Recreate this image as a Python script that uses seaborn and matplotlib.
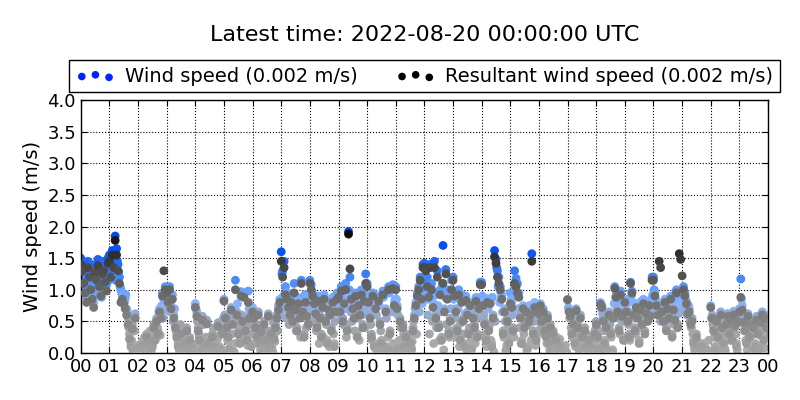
import matplotlib
matplotlib.use("Agg")
import matplotlib.pyplot as plt
import matplotlib.dates as mdates
from matplotlib.colors import LinearSegmentedColormap
import numpy as np
import pandas as pd
import seaborn as sns

# readings every 3 minutes (20 per hour) from 2022-08-19 00:00 UTC;
# wind speed also has a second reading 90 s after each of those
start = pd.Timestamp("2022-08-19 00:00:00")
step_min = 3

wind_speed = [
    1.50, 1.42, 1.20, 1.05, 0.88, 1.45, 1.30, 1.12, 0.95, 0.80, 1.38, 1.25, 1.48, 1.15, 0.98, 1.33, 1.40, 1.22, 1.08, 1.50,  # 00
    1.55, 1.30, 1.62, 1.45, 1.85, 1.65, 1.40, 1.20, 1.00, 0.92, 0.90, 0.85, 0.70, 0.55, 0.30, 0.15, 0.45, 0.10, 0.62, 0.05,  # 01
    0.02, 0.12, 0.05, 0.18, 0.01, 0.08, 0.30, 0.03, 0.22, 0.10, 0.15, 0.45, 0.25, 0.55, 0.35, 0.70, 0.60, 0.95, 0.85, 1.05,  # 02
    1.00, 0.88, 1.05, 0.75, 0.92, 0.60, 0.45, 0.30, 0.15, 0.05, 0.35, 0.02, 0.20, 0.10, 0.40, 0.01, 0.25, 0.05, 0.12, 0.03,  # 03
    0.78, 0.65, 0.40, 0.25, 0.05, 0.58, 0.12, 0.02, 0.52, 0.20, 0.08, 0.01, 0.30, 0.03, 0.15, 0.01, 0.48, 0.10, 0.02, 0.35,  # 04
    0.85, 0.60, 0.45, 0.30, 0.10, 0.72, 0.50, 0.02, 1.15, 0.65, 0.35, 0.20, 0.97, 0.55, 0.95, 0.40, 0.25, 0.98, 0.62, 0.15,  # 05
    0.72, 0.60, 0.45, 0.30, 0.65, 0.20, 0.38, 0.10, 0.50, 0.25, 0.05, 0.62, 0.15, 0.35, 0.02, 0.28, 0.45, 0.60, 0.75, 0.85,  # 06
    1.60, 1.30, 1.45, 1.05, 0.95, 0.80, 0.65, 0.90, 0.55, 1.10, 0.75, 0.40, 0.85, 0.60, 1.15, 0.70, 0.30, 0.88, 0.62, 0.50,  # 07
    1.15, 1.08, 0.95, 0.85, 0.70, 0.45, 0.90, 0.60, 0.30, 0.80, 0.92, 0.55, 0.20, 0.75, 0.65, 0.40, 0.88, 0.15, 0.72, 0.95,  # 08
    0.95, 0.70, 1.05, 0.55, 0.85, 1.10, 0.40, 1.92, 1.20, 0.90, 0.75, 0.60, 0.95, 0.30, 0.80, 0.65, 1.00, 0.45, 0.88, 1.25,  # 09
    1.10, 0.85, 0.60, 0.30, 0.95, 0.15, 0.75, 0.05, 0.90, 0.50, 0.20, 0.98, 0.02, 0.70, 0.10, 1.05, 0.35, 0.03, 1.08, 0.80,  # 10
    1.05, 0.75, 0.10, 0.55, 0.02, 0.45, 0.15, 0.30, 0.05, 0.01, 0.20, 0.08, 0.40, 0.60, 0.80, 0.95, 1.05, 1.20, 0.90, 1.40,  # 11
    1.42, 1.38, 1.20, 0.95, 1.40, 1.10, 0.80, 1.45, 0.60, 1.30, 0.45, 1.00, 0.25, 1.70, 0.70, 1.32, 0.90, 0.35, 0.55, 1.15,  # 12
    1.20, 0.95, 0.70, 0.40, 1.00, 0.25, 0.85, 0.55, 0.15, 0.90, 0.65, 0.35, 0.80, 0.10, 0.60, 0.45, 0.88, 0.30, 0.75, 1.12,  # 13
    1.12, 0.80, 0.50, 0.25, 0.86, 0.40, 0.85, 0.15, 0.60, 1.62, 1.48, 1.30, 1.20, 1.05, 0.90, 0.35, 0.70, 0.05, 0.55, 0.20,  # 14
    0.95, 0.80, 0.40, 1.30, 1.18, 1.10, 0.95, 0.60, 0.20, 0.75, 0.45, 0.70, 0.10, 0.55, 0.65, 1.57, 0.35, 0.80, 0.25, 0.70,  # 15
    0.68, 0.78, 0.55, 0.70, 0.40, 0.30, 0.60, 0.20, 0.45, 0.10, 0.35, 0.05, 0.25, 0.02, 0.15, 0.01, 0.08, 0.03, 0.01, 0.02,  # 16
    0.85, 0.68, 0.62, 0.35, 0.50, 0.20, 0.70, 0.45, 0.10, 0.60, 0.30, 0.02, 0.40, 0.15, 0.05, 0.25, 0.01, 0.12, 0.03, 0.35,  # 17
    0.50, 0.30, 0.10, 0.80, 0.75, 0.55, 0.20, 0.45, 0.05, 0.65, 0.35, 0.02, 0.60, 1.05, 0.92, 0.70, 0.40, 0.98, 0.62, 0.25,  # 18
    0.85, 0.70, 0.55, 0.30, 1.12, 0.98, 0.65, 0.40, 0.78, 0.60, 0.20, 0.72, 0.50, 0.85, 0.35, 0.68, 0.55, 0.80, 0.62, 1.20,  # 19
    1.20, 0.95, 0.80, 0.65, 0.62, 0.50, 0.70, 0.55, 0.85, 0.40, 0.75, 0.60, 0.90, 0.30, 0.72, 0.58, 1.00, 0.45, 0.70, 0.66,  # 20
    0.75, 1.05, 0.95, 0.82, 0.65, 0.70, 0.48, 0.55, 0.20, 0.05, 0.30, 0.02, 0.10, 0.01, 0.15, 0.03, 0.01, 0.06, 0.02, 0.01,  # 21
    0.75, 0.60, 0.40, 0.10, 0.55, 0.30, 0.02, 0.65, 0.45, 0.20, 0.05, 0.50, 0.62, 0.35, 0.58, 0.25, 0.66, 0.48, 0.15, 0.55,  # 22
    0.70, 1.17, 0.75, 0.55, 0.40, 0.20, 0.62, 0.30, 0.50, 0.05, 0.45, 0.15, 0.58, 0.35, 0.10, 0.52, 0.65, 0.25, 0.60, 0.45,  # 23
]

# wind readings taken 90 s after the ones above
wind_speed_b = [
    1.35, 1.10, 0.92, 1.28, 1.00, 0.85, 1.18, 1.40, 0.90, 1.05, 1.22, 0.95, 1.30, 1.12, 0.88, 1.45, 1.02, 1.25, 1.35, 1.15,  # 00
    1.25, 1.50, 1.35, 1.58, 1.15, 1.45, 1.28, 1.05, 0.95, 0.88, 0.80, 0.92, 0.65, 0.40, 0.50, 0.20, 0.03, 0.35, 0.12, 0.01,  # 01
    0.05, 0.01, 0.15, 0.03, 0.25, 0.02, 0.10, 0.01, 0.35, 0.06, 0.20, 0.30, 0.50, 0.40, 0.65, 0.28, 0.75, 0.55, 0.90, 0.68,  # 02
    0.95, 0.78, 0.65, 0.85, 0.50, 0.70, 0.35, 0.22, 0.08, 0.45, 0.01, 0.18, 0.03, 0.28, 0.01, 0.10, 0.02, 0.15, 0.01, 0.06,  # 03
    0.70, 0.50, 0.30, 0.15, 0.02, 0.45, 0.01, 0.25, 0.05, 0.01, 0.18, 0.02, 0.40, 0.01, 0.08, 0.22, 0.01, 0.30, 0.05, 0.55,  # 04
    0.60, 0.40, 0.20, 0.05, 0.55, 0.30, 0.01, 0.15, 0.48, 0.78, 0.42, 0.28, 0.60, 0.90, 0.35, 0.52, 0.12, 0.70, 0.45, 0.30,  # 05
    0.55, 0.35, 0.62, 0.15, 0.42, 0.05, 0.28, 0.01, 0.38, 0.12, 0.22, 0.02, 0.30, 0.08, 0.48, 0.18, 0.55, 0.35, 0.68, 0.60,  # 06
    1.25, 0.90, 0.70, 0.55, 0.85, 0.45, 0.78, 0.62, 0.95, 0.50, 0.35, 0.88, 0.68, 0.25, 0.80, 0.58, 0.92, 0.40, 0.75, 0.65,  # 07
    0.90, 0.75, 0.50, 0.82, 0.35, 0.65, 0.15, 0.78, 0.55, 0.25, 0.85, 0.45, 0.70, 0.10, 0.60, 0.82, 0.30, 0.50, 0.68, 0.85,  # 08
    0.80, 0.60, 0.92, 0.45, 0.70, 0.25, 0.85, 1.00, 0.65, 0.50, 0.88, 0.35, 0.72, 0.55, 0.20, 0.82, 0.60, 0.95, 0.40, 0.70,  # 09
    0.90, 0.70, 0.45, 0.20, 0.80, 0.08, 0.60, 0.02, 0.75, 0.35, 0.12, 0.88, 0.01, 0.55, 0.25, 0.95, 0.05, 0.65, 0.15, 0.85,  # 10
    0.85, 0.60, 0.20, 0.40, 0.05, 0.30, 0.01, 0.12, 0.02, 0.25, 0.01, 0.18, 0.50, 0.70, 0.30, 0.88, 0.65, 1.00, 0.78, 1.15,  # 11
    1.20, 0.85, 0.60, 0.30, 1.05, 0.50, 0.15, 0.92, 0.40, 0.75, 0.20, 0.65, 1.10, 0.05, 0.88, 0.45, 1.00, 0.25, 0.70, 0.35,  # 12
    0.85, 0.55, 0.25, 0.70, 0.10, 0.48, 0.92, 0.30, 0.62, 0.05, 0.78, 0.40, 0.20, 0.68, 0.35, 0.15, 0.55, 0.82, 0.28, 0.60,  # 13
    0.90, 0.60, 0.30, 0.10, 0.70, 0.45, 0.20, 0.88, 0.02, 0.50, 1.35, 1.05, 0.80, 0.95, 0.65, 0.25, 0.50, 0.12, 0.40, 0.30,  # 14
    0.85, 0.60, 0.25, 1.05, 0.90, 0.70, 0.40, 0.15, 0.55, 0.30, 0.62, 0.05, 0.45, 0.75, 0.20, 0.65, 0.50, 0.12, 0.60, 0.35,  # 15
    0.60, 0.45, 0.65, 0.30, 0.50, 0.15, 0.38, 0.05, 0.28, 0.01, 0.18, 0.02, 0.10, 0.01, 0.22, 0.01, 0.05, 0.01, 0.12, 0.01,  # 16
    0.72, 0.55, 0.40, 0.25, 0.60, 0.10, 0.48, 0.30, 0.02, 0.20, 0.38, 0.05, 0.15, 0.01, 0.28, 0.08, 0.01, 0.18, 0.02, 0.22,  # 17
    0.40, 0.20, 0.02, 0.70, 0.62, 0.35, 0.10, 0.55, 0.01, 0.45, 0.25, 0.05, 0.78, 0.88, 0.72, 0.55, 0.30, 0.82, 0.50, 0.65,  # 18
    0.75, 0.60, 0.45, 0.20, 0.90, 0.80, 0.55, 0.30, 0.68, 0.72, 0.40, 0.82, 0.62, 0.75, 0.50, 0.78, 0.65, 0.70, 0.85, 0.92,  # 19
    1.00, 0.85, 0.70, 0.78, 0.62, 0.75, 0.58, 0.68, 0.80, 0.52, 0.66, 0.72, 0.60, 0.78, 0.45, 0.70, 0.85, 0.62, 0.92, 0.80,  # 20
    0.95, 0.88, 0.70, 0.60, 0.75, 0.50, 0.40, 0.30, 0.08, 0.01, 0.18, 0.02, 0.01, 0.05, 0.01, 0.10, 0.02, 0.01, 0.20, 0.01,  # 21
    0.55, 0.45, 0.25, 0.02, 0.40, 0.15, 0.01, 0.50, 0.30, 0.08, 0.35, 0.62, 0.45, 0.20, 0.55, 0.40, 0.60, 0.30, 0.05, 0.48,  # 22
    0.60, 0.85, 0.50, 0.35, 0.20, 0.05, 0.48, 0.25, 0.40, 0.02, 0.30, 0.55, 0.12, 0.45, 0.28, 0.62, 0.38, 0.08, 0.50, 0.30,  # 23
]

resultant_speed = [
    1.40, 1.30, 1.10, 0.95, 0.80, 1.35, 1.20, 1.00, 0.85, 0.72, 1.28, 1.15, 1.38, 1.05, 0.90, 1.25, 1.30, 1.12, 0.98, 1.42,  # 00
    1.45, 1.20, 1.55, 1.35, 1.78, 1.55, 1.30, 1.10, 0.80, 0.85, 0.78, 0.70, 0.60, 0.45, 0.22, 0.10, 0.38, 0.05, 0.55, 0.02,  # 01
    0.01, 0.08, 0.03, 0.12, 0.01, 0.05, 0.25, 0.02, 0.15, 0.06, 0.10, 0.40, 0.20, 0.50, 0.30, 0.65, 0.55, 0.90, 1.30, 1.00,  # 02
    0.95, 0.80, 1.00, 0.70, 0.85, 0.55, 0.40, 0.25, 0.10, 0.02, 0.30, 0.01, 0.15, 0.05, 0.35, 0.01, 0.20, 0.02, 0.08, 0.01,  # 03
    0.72, 0.58, 0.35, 0.20, 0.03, 0.52, 0.08, 0.01, 0.46, 0.15, 0.05, 0.01, 0.25, 0.02, 0.10, 0.01, 0.42, 0.06, 0.01, 0.30,  # 04
    0.82, 0.55, 0.40, 0.25, 0.05, 0.68, 0.45, 0.01, 1.00, 0.60, 0.30, 0.15, 0.90, 0.50, 0.88, 0.35, 0.20, 0.80, 0.55, 0.10,  # 05
    0.65, 0.55, 0.40, 0.25, 0.60, 0.15, 0.33, 0.06, 0.45, 0.20, 0.03, 0.58, 0.10, 0.30, 0.01, 0.22, 0.40, 0.55, 0.68, 0.80,  # 06
    1.45, 1.20, 1.35, 0.92, 0.85, 0.72, 0.60, 0.80, 0.50, 0.95, 0.68, 0.35, 0.78, 0.55, 1.10, 0.65, 0.25, 0.80, 0.58, 0.45,  # 07
    1.10, 1.00, 0.90, 0.78, 0.62, 0.40, 0.82, 0.55, 0.25, 0.72, 0.85, 0.50, 0.15, 0.68, 0.60, 0.35, 0.80, 0.10, 0.65, 0.85,  # 08
    0.88, 0.65, 0.98, 0.50, 0.78, 1.00, 0.35, 1.88, 1.33, 0.85, 0.70, 0.55, 0.90, 0.25, 0.75, 0.60, 0.92, 0.40, 0.82, 1.10,  # 09
    1.05, 0.80, 0.55, 0.25, 0.90, 0.10, 0.70, 0.03, 0.82, 0.45, 0.15, 0.92, 0.01, 0.65, 0.06, 1.00, 0.30, 0.02, 1.02, 0.75,  # 10
    1.00, 0.70, 0.06, 0.50, 0.01, 0.40, 0.10, 0.25, 0.03, 0.01, 0.15, 0.05, 0.35, 0.55, 0.75, 0.90, 1.00, 1.15, 0.85, 1.35,  # 11
    1.35, 1.30, 1.05, 0.88, 1.35, 1.00, 0.72, 1.35, 0.55, 1.20, 0.40, 0.92, 0.20, 1.10, 0.65, 1.25, 0.85, 0.30, 0.50, 1.00,  # 12
    1.15, 0.90, 0.65, 0.35, 0.92, 0.20, 0.80, 0.50, 0.10, 0.83, 0.60, 0.30, 0.75, 0.06, 0.55, 0.40, 0.82, 0.25, 0.70, 1.08,  # 13
    1.08, 0.75, 0.45, 0.20, 0.80, 0.35, 0.78, 0.10, 0.55, 1.52, 1.42, 1.20, 1.10, 1.00, 0.85, 0.30, 0.65, 0.03, 0.50, 0.15,  # 14
    0.78, 0.72, 0.35, 1.10, 1.05, 0.95, 0.88, 0.55, 0.15, 0.70, 0.40, 0.65, 0.06, 0.50, 0.60, 1.45, 0.30, 0.72, 0.20, 0.65,  # 15
    0.62, 0.75, 0.50, 0.65, 0.35, 0.25, 0.55, 0.15, 0.40, 0.06, 0.30, 0.03, 0.20, 0.01, 0.10, 0.01, 0.05, 0.02, 0.01, 0.01,  # 16
    0.84, 0.65, 0.58, 0.30, 0.45, 0.15, 0.67, 0.40, 0.06, 0.55, 0.25, 0.01, 0.35, 0.10, 0.03, 0.20, 0.01, 0.08, 0.02, 0.30,  # 17
    0.45, 0.25, 0.06, 0.77, 0.72, 0.50, 0.15, 0.40, 0.03, 0.60, 0.30, 0.01, 0.55, 1.02, 0.88, 0.65, 0.35, 0.92, 0.58, 0.20,  # 18
    0.80, 0.65, 0.50, 0.25, 1.10, 0.95, 0.60, 0.35, 0.72, 0.55, 0.15, 0.68, 0.45, 0.78, 0.30, 0.62, 0.50, 0.75, 0.58, 1.15,  # 19
    1.15, 0.90, 0.75, 0.60, 1.45, 1.35, 0.65, 0.50, 0.80, 0.35, 0.70, 0.55, 0.85, 0.25, 0.68, 0.52, 0.95, 0.40, 1.57, 1.48,  # 20
    1.22, 1.00, 0.90, 0.78, 0.62, 0.65, 0.45, 0.50, 0.15, 0.03, 0.25, 0.01, 0.06, 0.01, 0.10, 0.02, 0.01, 0.04, 0.01, 0.01,  # 21
    0.72, 0.55, 0.35, 0.06, 0.50, 0.25, 0.01, 0.60, 0.40, 0.15, 0.03, 0.45, 0.58, 0.30, 0.52, 0.20, 0.60, 0.42, 0.10, 0.50,  # 22
    0.65, 0.88, 0.68, 0.48, 0.35, 0.15, 0.58, 0.25, 0.45, 0.03, 0.40, 0.10, 0.52, 0.30, 0.06, 0.48, 0.60, 0.20, 0.55, 0.40,  # 23
]

title = "Latest time: 2022-08-20 00:00:00 UTC"
wind_label = "Wind speed (0.002 m/s)"
resultant_label = "Resultant wind speed (0.002 m/s)"


def make_frame(values, offset_min=0.0):
    times = start + pd.to_timedelta(np.arange(len(values)) * step_min + offset_min, unit="min")
    return pd.DataFrame({"time": times, "speed": values})


wind_df = pd.concat([make_frame(wind_speed), make_frame(wind_speed_b, step_min / 2)])
wind_df = wind_df.sort_values("time")
res_df = make_frame(resultant_speed)

# light grey when calm -> blue when strong; grey -> black for the resultant
wind_cmap = LinearSegmentedColormap.from_list(
    "wind", [(0.0, "#adadad"), (0.22, "#a0a3a9"), (0.40, "#86b3ff"),
             (0.60, "#4283f6"), (0.80, "#0b52f2"), (1.0, "#0040ff")])
res_cmap = LinearSegmentedColormap.from_list(
    "res", [(0.0, "#a4a4a4"), (0.25, "#858585"), (0.45, "#6c6c6c"),
            (0.65, "#4c4c4c"), (0.9, "#151515"), (1.0, "#000000")])

sns.set_style("ticks", {"axes.grid": True, "grid.color": "black",
                        "grid.linestyle": ":", "xtick.direction": "in",
                        "ytick.direction": "in", "axes.edgecolor": "black",
                        "text.color": "black", "axes.labelcolor": "black",
                        "xtick.color": "black", "ytick.color": "black"})
plt.rcParams["font.family"] = ["DejaVu Sans"]
plt.rcParams["grid.linewidth"] = 0.8

fig = plt.figure(figsize=(8, 4), dpi=100)
ax = fig.add_axes([0.101, 0.1175, 0.859, 0.6325])

sns.scatterplot(data=wind_df, x="time", y="speed", hue="speed",
                palette=wind_cmap, hue_norm=(0, 2), s=40, linewidth=0,
                legend=False, ax=ax, zorder=2)
sns.scatterplot(data=res_df, x="time", y="speed", hue="speed",
                palette=res_cmap, hue_norm=(0, 2), s=40, linewidth=0,
                legend=False, ax=ax, zorder=3)

ax.set_xlim(start, start + pd.Timedelta(hours=24))
ax.set_ylim(0, 4)
ax.set_yticks(np.arange(0, 4.01, 0.5))
ax.xaxis.set_major_locator(mdates.HourLocator(interval=1))
ax.xaxis.set_major_formatter(mdates.DateFormatter("%H"))
ax.tick_params(labelsize=13, top=True, right=True, length=4, width=0.8,
               colors="black")
ax.set_xlabel("")
ax.set_ylabel("Wind speed (m/s)", fontsize=14, color="black")
for sp in ax.spines.values():
    sp.set_linewidth(1.0)

h1 = ax.scatter([], [], color="#0022ff", s=20)
h2 = ax.scatter([], [], color="black", s=20)
ax.legend([h1, h2], [wind_label, resultant_label], loc="lower center",
          bbox_to_anchor=(0.5, 1.03), ncol=2, fontsize=14, scatterpoints=3,
          frameon=True, fancybox=False, edgecolor="black", framealpha=1,
          borderaxespad=0, handletextpad=0.5, columnspacing=2.0,
          borderpad=0.35)

fig.text(0.531, 0.912, title, ha="center", va="center", fontsize=16,
         color="black")

fig.savefig("out.png", dpi=100)
